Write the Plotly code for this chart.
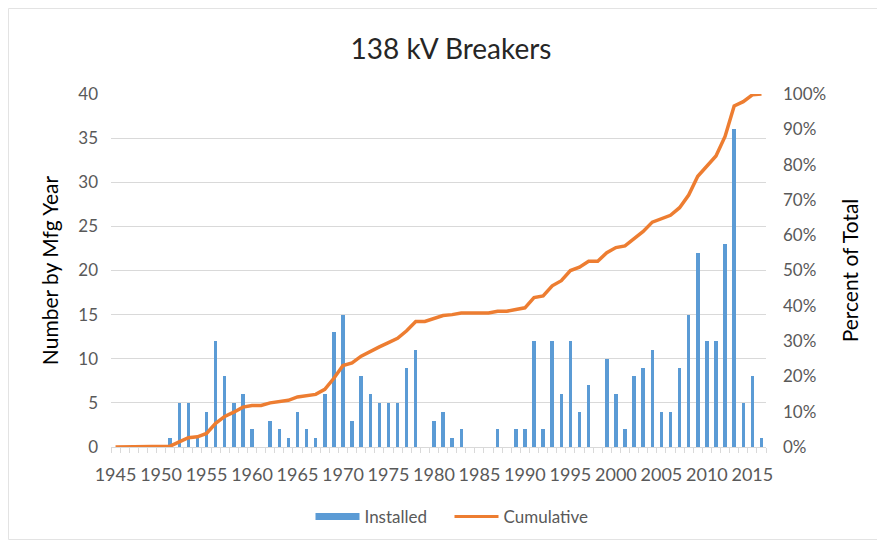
import numpy as np
import plotly.graph_objects as go

years = list(range(1945, 2017))
installed_by_year = {
    1951: 1, 1952: 5, 1953: 5, 1954: 1, 1955: 4, 1956: 12, 1957: 8, 1958: 5, 1959: 6, 1960: 2,
    1962: 3, 1963: 2, 1964: 1, 1965: 4, 1966: 2, 1967: 1, 1968: 6, 1969: 13, 1970: 15,
    1971: 3, 1972: 8, 1973: 6, 1974: 5, 1975: 5, 1976: 5, 1977: 9, 1978: 11,
    1980: 3, 1981: 4, 1982: 1, 1983: 2, 1987: 2, 1989: 2, 1990: 2, 1991: 12, 1992: 2,
    1993: 12, 1994: 6, 1995: 12, 1996: 4, 1997: 7, 1999: 10, 2000: 6, 2001: 2, 2002: 8,
    2003: 9, 2004: 11, 2005: 4, 2006: 4, 2007: 9, 2008: 15, 2009: 22, 2010: 12, 2011: 12,
    2012: 23, 2013: 36, 2014: 5, 2015: 8, 2016: 1,
}
installed = [installed_by_year.get(y, 0) for y in years]
cumulative = list(np.cumsum(installed) / np.sum(installed))

tick_years = list(range(1945, 2016, 5))
left_ticks = list(range(0, 41, 5))
right_ticks = [i / 10 for i in range(11)]

FONT = "Lato, 'Open Sans', sans-serif"
GRAY = "#595959"
BLUE = "#5B9BD5"
ORANGE = "#ED7D31"

# figure is offset by the page's 8px body margin, so size it to fill the window
W, H = 877, 538
L, R, T, B = 103, 119, 86, 99
pw, ph = W - L - R, H - T - B

fig = go.Figure()
fig.add_trace(go.Bar(
    x=years, y=installed, name="Installed", width=0.38, showlegend=False,
    marker=dict(color=BLUE, line=dict(width=0)),
))
fig.add_trace(go.Scatter(
    x=years, y=cumulative, name="Cumulative", yaxis="y2", mode="lines", showlegend=False,
    line=dict(color=ORANGE, width=3.5),
))
# legend proxies
fig.add_trace(go.Scatter(x=[None], y=[None], name="Installed", mode="lines",
                         line=dict(color=BLUE, width=7)))
fig.add_trace(go.Scatter(x=[None], y=[None], name="Cumulative", mode="lines",
                         line=dict(color=ORANGE, width=3)))

fig.update_layout(
    width=W, height=H,
    paper_bgcolor="white", plot_bgcolor="white",
    margin=dict(l=L, r=R, t=T, b=B, autoexpand=False),
    title=dict(text="138 kV Breakers", x=443 / W, xanchor="center", y=1 - 41 / H, yanchor="middle",
               font=dict(family=FONT, size=28, color="#262626")),
    font=dict(family=FONT, size=17, color=GRAY),
    bargap=0,
    showlegend=True,
    legend=dict(orientation="h", x=(441.5 - L) / pw, xanchor="center", y=-70 / ph, yanchor="middle",
                font=dict(family=FONT, size=17, color=GRAY), itemwidth=44,
                entrywidth=80, entrywidthmode="pixels", tracegroupgap=0),
    xaxis=dict(
        range=[1944.5, 2016.5], tickmode="array", tickvals=tick_years,
        ticktext=[str(y) for y in tick_years], showgrid=False, tickangle=0,
        showline=True, linecolor="#D9D9D9", linewidth=1,
        ticks="", ticklabelstandoff=11,
        minor=dict(ticks="outside", tick0=1944.5, dtick=1, ticklen=5, tickcolor="#D9D9D9", showgrid=False),
        tickfont=dict(family=FONT, size=18, color=GRAY), zeroline=False,
    ),
    yaxis=dict(
        range=[0, 40], tickmode="array", tickvals=left_ticks, automargin=False,
        showgrid=True, gridcolor="#D9D9D9", gridwidth=1, zeroline=False,
        tickfont=dict(family=FONT, size=17, color=GRAY), ticks="", ticklabelstandoff=12,
        title=dict(text="Number by Mfg Year", font=dict(family=FONT, size=21, color="#000000"), standoff=13),
    ),
    yaxis2=dict(
        range=[0, 1], overlaying="y", side="right", tickmode="array", tickvals=right_ticks,
        tickformat=".0%", showgrid=False, zeroline=False, automargin=False,
        tickfont=dict(family=FONT, size=17, color=GRAY), ticks="", ticklabelstandoff=16,
        title=dict(text="Percent of Total", font=dict(family=FONT, size=21, color="#000000"), standoff=18),
    ),
    shapes=[dict(type="rect", xref="paper", yref="paper",
                 x0=(0.5 - L) / pw, x1=(W - 5.5 - L) / pw,
                 y0=-(H - 6.5 - T - ph) / ph, y1=1 + (T - 0.5) / ph,
                 line=dict(color="#E3E3E3", width=1), layer="below")],
)

fig.write_html("out.html")
